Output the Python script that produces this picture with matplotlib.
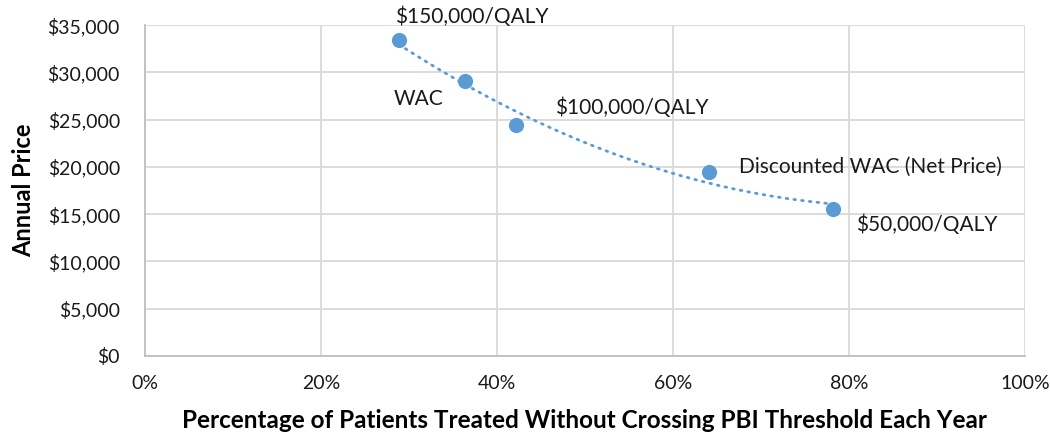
import numpy as np
import matplotlib.pyplot as plt
from matplotlib.ticker import FuncFormatter

plt.rcParams['font.family'] = ['Lato', 'DejaVu Sans']

# data
pct = [0.2886, 0.3633, 0.4216, 0.6413, 0.7815]
price = [33380, 29060, 24470, 19440, 15590]
labels = ['$150,000/QALY', 'WAC', '$100,000/QALY',
          'Discounted WAC (Net Price)', '$50,000/QALY']
label_offsets = [(-4, 24), (-71, -18), (39, 17), (30, 5), (23, -16)]

blue = '#5B9BD5'
grid_col = '#D9D9D9'

fig = plt.figure(figsize=(10.5, 4.4), dpi=100)
ax = fig.add_axes([0.138, 0.191, 0.838, 0.752])

# polynomial trendline (order 2), like Excel
coef = np.polyfit(pct, price, 2)
xs = np.linspace(min(pct), max(pct), 200)
ax.plot(xs, np.polyval(coef, xs), color=blue, lw=2, ls=(0, (0.6, 2.2)),
        dash_capstyle='round', zorder=2)

ax.scatter(pct, price, s=120, color=blue, zorder=3, linewidths=0)

for x, y, t, (dx, dy) in zip(pct, price, labels, label_offsets):
    ax.annotate(t, (x, y), xytext=(dx, dy), textcoords='offset pixels',
                ha='left', va='center', fontsize=15, color='#1a1a1a')

ax.set_xlim(0, 1)
ax.set_ylim(0, 35000)
ax.set_xticks(np.arange(0, 1.01, 0.2))
ax.set_yticks(np.arange(0, 35001, 5000))
ax.xaxis.set_major_formatter(FuncFormatter(lambda v, p: f'{v*100:.0f}%'))
ax.yaxis.set_major_formatter(FuncFormatter(lambda v, p: f'${v:,.0f}'))
ax.grid(True, color=grid_col, lw=1.3)
ax.set_axisbelow(True)
for s in ['top', 'right']:
    ax.spines[s].set_visible(False)
for s in ['left', 'bottom']:
    ax.spines[s].set_color('#BFBFBF')
    ax.spines[s].set_linewidth(1.3)
ax.tick_params(length=0, labelsize=14, colors='#1a1a1a')
ax.tick_params(axis='y', pad=18)
ax.tick_params(axis='x', pad=14)

ax.set_xlabel('Percentage of Patients Treated Without Crossing PBI Threshold Each Year',
              fontsize=17.5, fontweight='bold', labelpad=12)
ax.set_ylabel('Annual Price', fontsize=17, fontweight='bold', labelpad=9)

fig.savefig('out.png', dpi=100)
